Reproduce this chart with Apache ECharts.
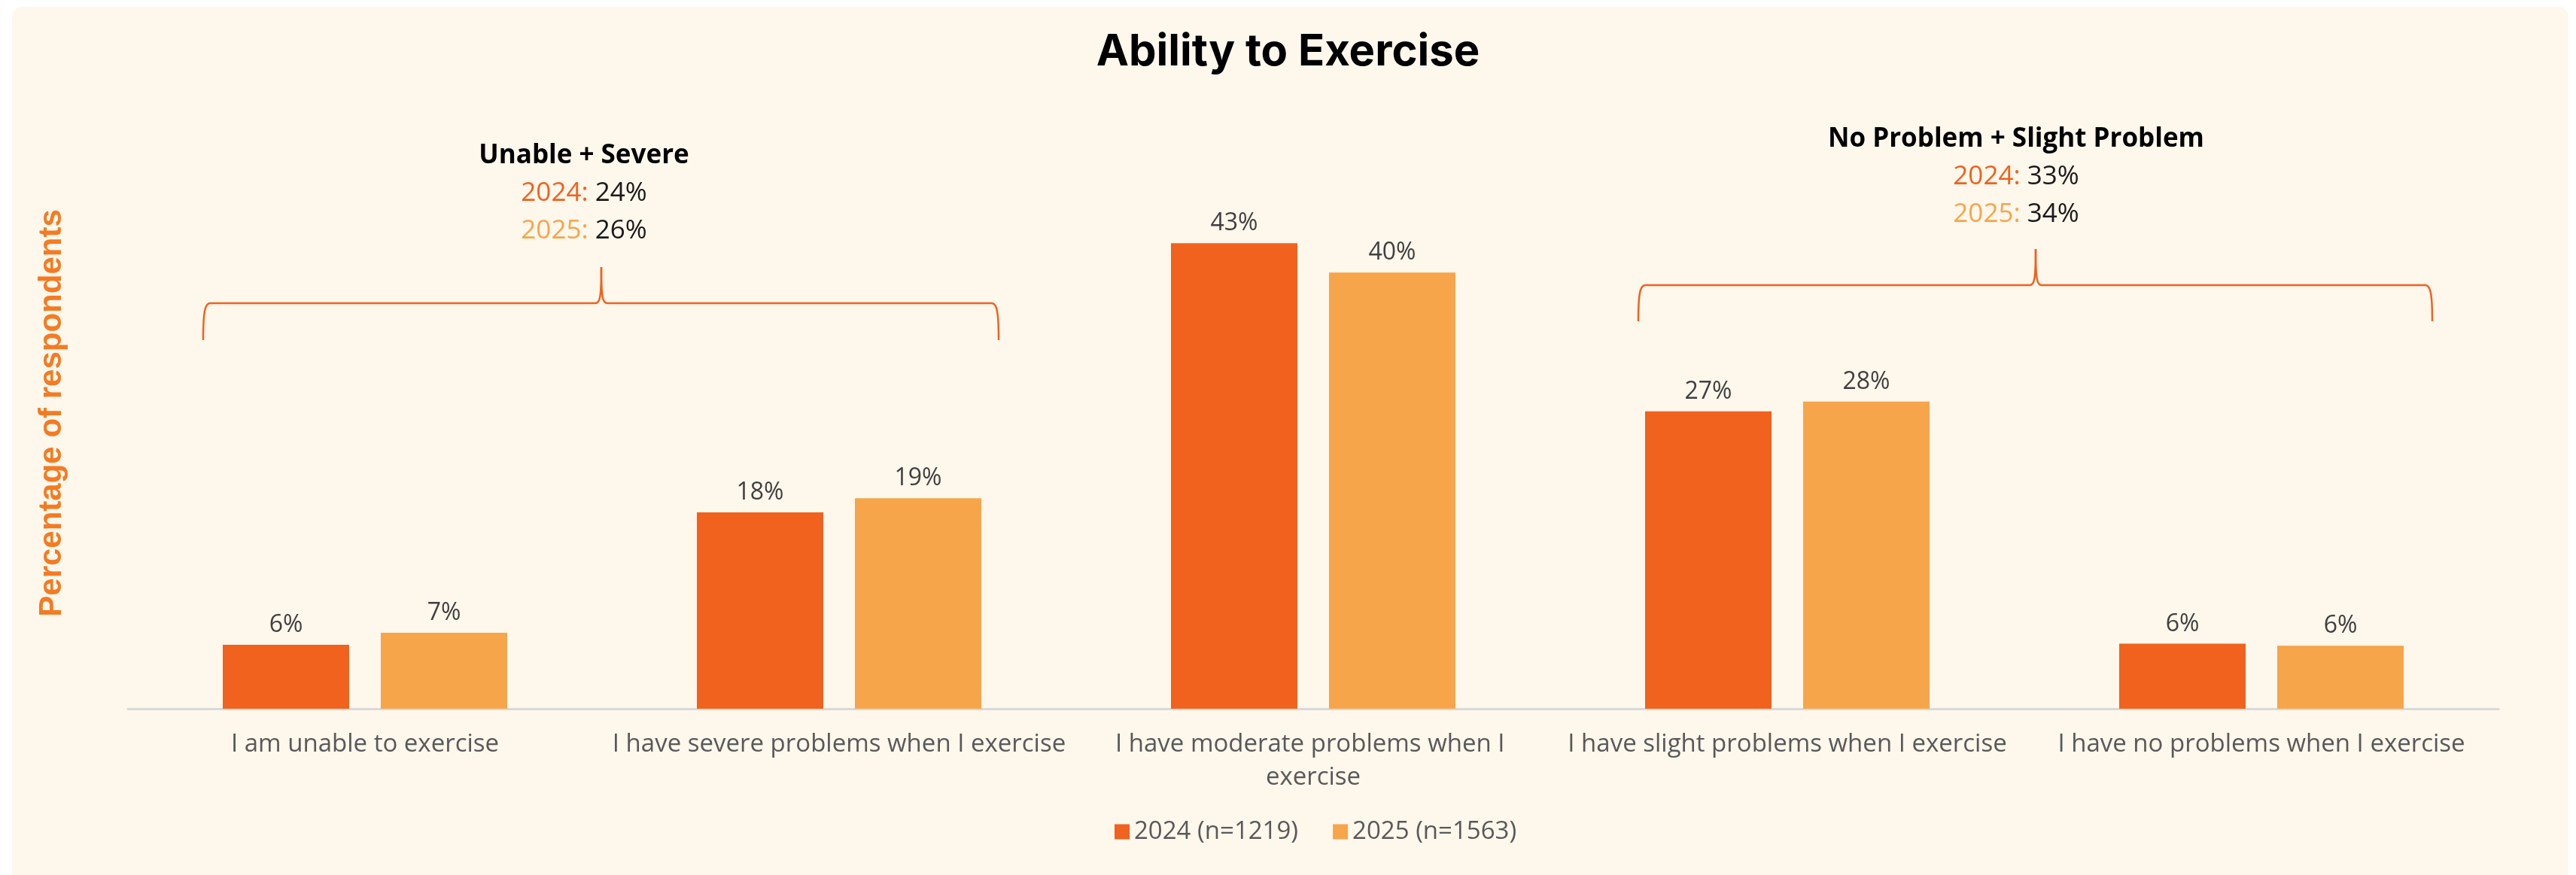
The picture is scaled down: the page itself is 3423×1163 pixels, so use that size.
<!DOCTYPE html>
<html>
<head>
<meta charset="utf-8">
<title>Ability to Exercise</title>
<script src="https://cdn.jsdelivr.net/npm/echarts@6/dist/echarts.min.js"></script>
<style>
  html, body { margin: 0; padding: 0; background: #ffffff; }
  #panel {
    position: absolute; left: 16px; top: 9px; width: 3397px; height: 1170px;
    background: #FEF7EC; border-radius: 14px;
  }
  #chart { position: absolute; left: 0; top: 0; width: 3423px; height: 1163px; }
</style>
</head>
<body>
<div id="panel"></div>
<div id="chart"></div>
<script>
// Survey answers, one category per response option
const categories = [
  'I am unable to exercise',
  'I have severe problems when I exercise',
  'I have moderate problems when I exercise',
  'I have slight problems when I exercise',
  'I have no problems when I exercise'
];
const seriesNames = ['2024 (n=1219)', '2025 (n=1563)'];
const values2024 = [5.9, 18.1, 42.9, 27.4, 6.0];
const values2025 = [7.0, 19.4, 40.2, 28.3, 5.8];

// Grouped totals shown above the braces
const groupLeft = { title: 'Unable + Severe', v2024: '24%', v2025: '26%' };
const groupRight = { title: 'No Problem + Slight Problem', v2024: '33%', v2025: '34%' };

const C2024 = '#F0621E';
const C2025 = '#F7A54A';
const BODY_FONT = '"Open Sans", "Noto Sans", sans-serif';

const chart = echarts.init(document.getElementById('chart'), null, { renderer: 'canvas' });

const barLabel = {
  show: true,
  position: 'top',
  distance: 10,
  color: '#404040',
  fontFamily: BODY_FONT,
  fontSize: 32,
  formatter: p => Math.round(p.value) + '%'
};

chart.setOption({
  backgroundColor: 'transparent',
  animation: false,
  title: {
    text: 'Ability to Exercise',
    left: 'center',
    top: 36,
    textStyle: { fontFamily: 'Inter, sans-serif', fontWeight: 'bold', fontSize: 58, color: '#000000' }
  },
  legend: {
    data: seriesNames,
    left: 1476,
    top: 1084,
    itemWidth: 20,
    itemHeight: 20,
    itemGap: 46,
    icon: 'rect',
    textStyle: { fontFamily: BODY_FONT, fontSize: 33, color: '#595959', padding: [0, 0, 0, 1] }
  },
  grid: { left: 170, right: 103, top: 156, bottom: 221, containLabel: false },
  xAxis: {
    type: 'category',
    data: categories,
    axisTick: { show: false },
    axisLine: { show: true, lineStyle: { color: '#D9D9D9', width: 3 } },
    axisLabel: {
      interval: 0,
      margin: 26,
      color: '#595959',
      fontFamily: BODY_FONT,
      fontSize: 33,
      lineHeight: 44,
      width: 615,
      overflow: 'break'
    }
  },
  yAxis: {
    type: 'value',
    min: 0,
    max: 54.5,
    axisLine: { show: false },
    axisTick: { show: false },
    axisLabel: { show: false },
    splitLine: { show: false },
    name: 'Percentage of respondents',
    nameLocation: 'middle',
    nameRotate: 90,
    nameGap: 80,
    nameTextStyle: { fontFamily: '"Liberation Sans", Arial, sans-serif', fontWeight: 'bold', fontSize: 42, color: '#F47B22' }
  },
  series: [
    { name: seriesNames[0], type: 'bar', data: values2024, barWidth: 168, barGap: '25%',
      itemStyle: { color: C2024 }, label: barLabel },
    { name: seriesNames[1], type: 'bar', data: values2025, barWidth: 168, barGap: '25%',
      itemStyle: { color: C2025 }, label: barLabel }
  ]
});

// Curly brace built from straight runs and bezier curls: curled ends and an upward cusp at the middle
function brace(x1, x2, tip, y, endDrop, tipRise) {
  const yEnd = y + endDrop, yTip = y - tipRise;
  const st = { fill: null, stroke: C2024, lineWidth: 2.5 };
  const curve = (a, b, c1, c2) => ({
    type: 'bezierCurve',
    shape: { x1: a[0], y1: a[1], x2: b[0], y2: b[1], cpx1: c1[0], cpy1: c1[1], cpx2: c2[0], cpy2: c2[1] },
    style: st
  });
  const line = (a, b) => ({ type: 'line', shape: { x1: a[0], y1: a[1], x2: b[0], y2: b[1] }, style: st });
  return {
    type: 'group',
    children: [
      curve([x1, yEnd], [x1 + 9, y], [x1, y + 14], [x1 + 2, y]),
      line([x1 + 9, y], [tip - 8, y]),
      curve([tip - 8, y], [tip, yTip], [tip - 2, y], [tip, y - 6]),
      curve([tip, yTip], [tip + 8, y], [tip, y - 6], [tip + 2, y]),
      line([tip + 8, y], [x2 - 9, y]),
      curve([x2 - 9, y], [x2, yEnd], [x2 - 2, y], [x2, y + 14])
    ]
  };
}

function groupText(g, x, y) {
  return {
    type: 'text',
    x: x, y: y,
    style: {
      text: '{t|' + g.title + '}\n{a|2024: }{v|' + g.v2024 + '}\n{b|2025: }{v|' + g.v2025 + '}',
      align: 'center',
      verticalAlign: 'top',
      rich: {
        t: { fontFamily: BODY_FONT, fontWeight: 'bold', fontSize: 35, lineHeight: 50, fill: '#000000' },
        a: { fontFamily: BODY_FONT, fontSize: 35, lineHeight: 50, fill: C2024 },
        b: { fontFamily: BODY_FONT, fontSize: 35, lineHeight: 50, fill: C2025 },
        v: { fontFamily: BODY_FONT, fontSize: 35, lineHeight: 50, fill: '#1a1a1a' }
      }
    }
  };
}

const px = name => chart.convertToPixel({ xAxisIndex: 0 }, name);
const c = categories.map(px);
const half = 189;

const lx1 = c[0] - half - 26, lx2 = c[1] + half + 23, ltip = (c[0] + c[1]) / 2 - 1;
const rx1 = c[3] - half - 9, rx2 = c[4] + half + 38, rtip = (c[3] + c[4]) / 2 + 15;

chart.setOption({
  graphic: [
    brace(lx1, lx2, ltip, 403, 49, 48),
    brace(rx1, rx2, rtip, 379, 48, 48),
    groupText(groupLeft, ltip - 23, 182),
    groupText(groupRight, rtip - 26, 160)
  ]
});
</script>
</body>
</html>
